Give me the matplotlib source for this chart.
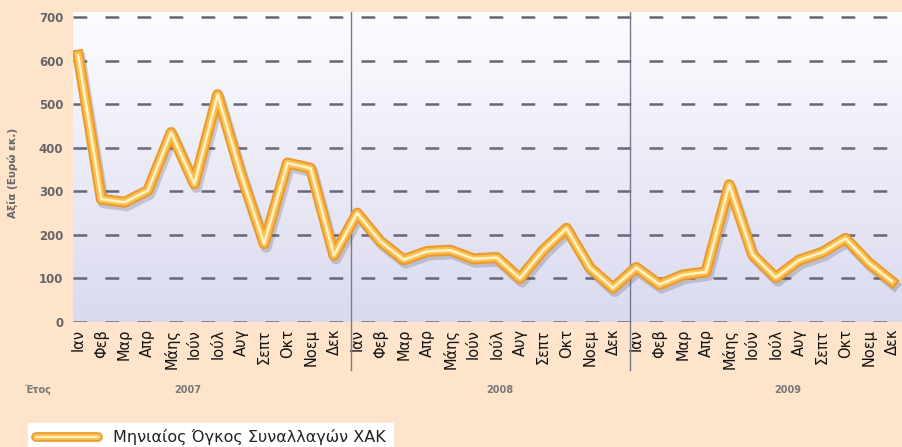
import numpy as np
import matplotlib
matplotlib.use("Agg")
from matplotlib import pyplot as plt
from matplotlib import patheffects as pe
from matplotlib.lines import Line2D
from matplotlib.patches import Rectangle

months = ['Ιαν', 'Φεβ', 'Μαρ', 'Απρ', 'Μάης', 'Ιούν', 'Ιούλ', 'Αυγ', 'Σεπτ', 'Οκτ', 'Νοεμ', 'Δεκ']
years = ['2007', '2008', '2009']

vol_2007 = [613, 282, 275, 302, 435, 317, 522, 340, 180, 365, 353, 153]
vol_2008 = [250, 185, 143, 162, 165, 145, 148, 100, 165, 215, 125, 78]
vol_2009 = [125, 86, 108, 115, 315, 155, 102, 142, 160, 192, 136, 93]

values = vol_2007 + vol_2008 + vol_2009
labels = months * len(years)
x = np.arange(len(values))

bg = '#fde4cb'
fig = plt.figure(figsize=(9.02, 4.47), dpi=100, facecolor=bg)
ax = fig.add_axes([73/902, 1 - 322/447, 829/902, 310/447])
ax.set_facecolor('none')

# gradient plot background, white at top to lavender at bottom
grad = np.linspace(0, 1, 256).reshape(-1, 1)
top = np.array([0.99, 0.99, 1.0])
bot = np.array([0.855, 0.855, 0.94])
img = top + (bot - top) * grad[..., None]
ax.imshow(img, extent=[0, 1, 0, 1], transform=ax.transAxes, aspect='auto', zorder=0)

ax.set_xlim(-0.22, 35.43)
ax.set_ylim(0, 712)

ax.set_yticks(range(0, 701, 100))
ax.yaxis.grid(True, linestyle=(0, (5.5, 7.3)), color='#666678', lw=1.8, zorder=1)
ax.tick_params(axis='y', length=0, pad=7, labelsize=8.5, labelcolor='#666666')
for t in ax.get_yticklabels():
    t.set_fontweight('bold')

ax.set_xticks(x)
ax.set_xticklabels(labels, rotation=90, fontsize=10.5, color='#111111')
ax.tick_params(axis='x', length=0, pad=5)

for s in ax.spines.values():
    s.set_visible(False)

# year separators
for sep in [11.75, 23.75]:
    ax.axvline(sep, ymin=-0.155, ymax=1, color='#7a7a90', lw=1, clip_on=False, zorder=2)

ax.set_ylabel('Αξία (Ευρώ εκ.)', fontsize=7.5, color='#666666', fontweight='bold')
ax.yaxis.set_label_coords(-0.066, 0.48)

shadow = [pe.SimpleLineShadow(offset=(1.5, -2.5), shadow_color='#303040', alpha=0.2), pe.Normal()]
ax.plot(x, values, color='#ec9a2c', lw=8, solid_joinstyle='round', zorder=3, path_effects=shadow)
ax.plot(x, values, color='#f8c055', lw=5, solid_joinstyle='round', zorder=4)
ax.plot(x, values, color='#fff3c4', lw=1.8, solid_joinstyle='round', zorder=5)

# year row
fig.text(38/902, 1 - 390/447, 'Έτος', fontsize=7, color='#777777', fontweight='bold', ha='center', va='center')
for yr, px in zip(years, [188, 500, 788]):
    fig.text(px/902, 1 - 390/447, yr, fontsize=7, color='#777777', fontweight='bold', ha='center', va='center')

# legend
fig.add_artist(Rectangle((28/902, 0), 365/902, 24/447, transform=fig.transFigure, color='white', zorder=1))
ly = 1 - 437/447
for c, w in [('#ec9a2c', 7), ('#f8c055', 4.5), ('#fff3c4', 1.5)]:
    fig.add_artist(Line2D([36/902, 98/902], [ly, ly], transform=fig.transFigure, color=c, lw=w,
                          solid_capstyle='round', zorder=2))
fig.text(113/902, ly, 'Μηνιαίος Όγκος Συναλλαγών ΧΑΚ', fontsize=11.5, color='#222222', va='center', zorder=3)

fig.savefig('out.png', dpi=100, facecolor=bg)
